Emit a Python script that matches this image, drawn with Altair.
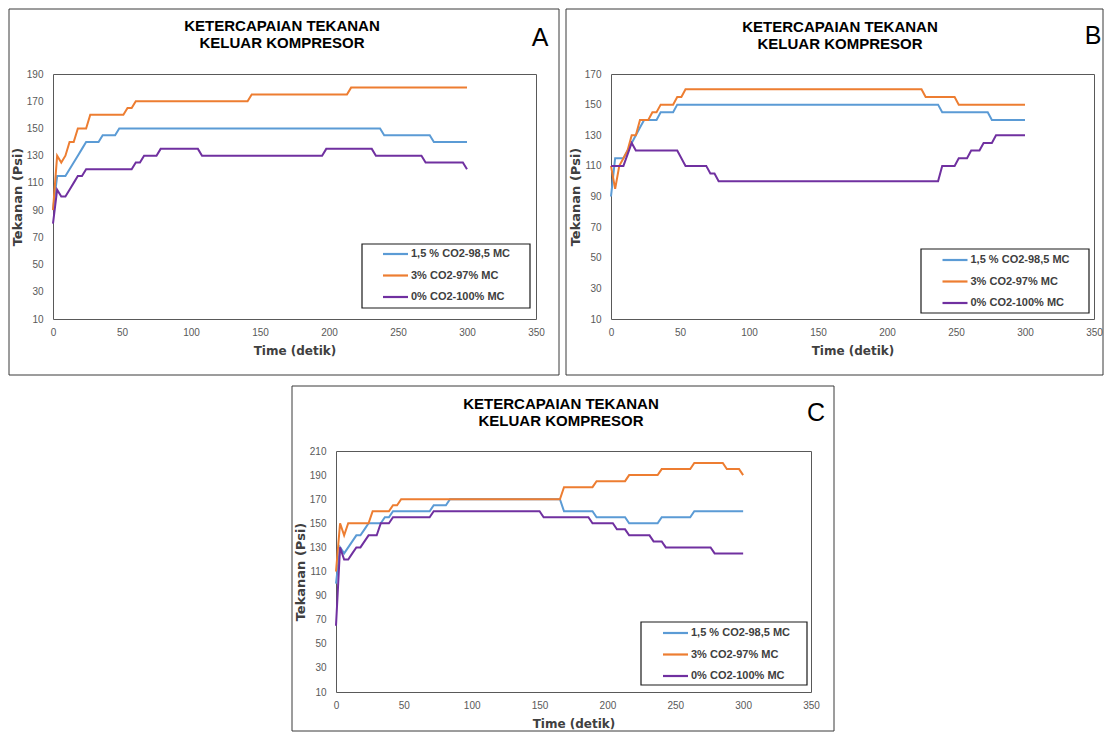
import altair as alt
import pandas as pd

# ---------------- text / categories ----------------
SERIES = ["1,5 % CO2-98,5 MC", "3% CO2-97% MC", "0% CO2-100% MC"]
COLORS = ["#5B9BD5", "#ED7D31", "#7030A0"]
TITLE_LINES = ["KETERCAPAIAN TEKANAN", "KELUAR KOMPRESOR"]
X_TITLE = "Time (detik)"
Y_TITLE = "Tekanan (Psi)"
X_TICKS = [0, 50, 100, 150, 200, 250, 300, 350]

# ---------------- panel A ----------------
A_Y_TICKS = [10, 30, 50, 70, 90, 110, 130, 150, 170, 190]
A_BLUE_T = [0, 3, 9, 12, 15, 18, 21, 24, 33, 36, 45, 48, 237, 240, 273, 276, 300]
A_BLUE_V = [90, 115, 115, 120, 125, 130, 135, 140, 140, 145, 145, 150, 150, 145, 145, 140, 140]
A_ORANGE_T = [0, 3, 6, 9, 12, 15, 18, 24, 27, 51, 54, 57, 60, 141, 144, 213, 216, 300]
A_ORANGE_V = [90, 130, 125, 130, 140, 140, 150, 150, 160, 160, 165, 165, 170, 170, 175, 175, 180, 180]
A_PURPLE_T = [0, 3, 6, 9, 12, 15, 18, 21, 24, 57, 60, 63, 66, 75, 78, 105, 108, 195, 198, 231, 234, 267, 270, 297, 300]
A_PURPLE_V = [80, 105, 100, 100, 105, 110, 115, 115, 120, 120, 125, 125, 130, 130, 135, 135, 130, 130, 135, 135, 130, 130, 125, 125, 120]

# ---------------- panel B ----------------
B_Y_TICKS = [10, 30, 50, 70, 90, 110, 130, 150, 170]
B_BLUE_T = [0, 3, 9, 12, 15, 18, 21, 24, 33, 36, 45, 48, 237, 240, 273, 276, 300]
B_BLUE_V = [90, 115, 115, 120, 125, 130, 135, 140, 140, 145, 145, 150, 150, 145, 145, 140, 140]
B_ORANGE_T = [0, 3, 6, 9, 12, 15, 18, 21, 27, 30, 33, 36, 45, 48, 51, 54, 225, 228, 249, 252, 300]
B_ORANGE_V = [110, 95, 110, 115, 120, 130, 130, 140, 140, 145, 145, 150, 150, 155, 155, 160, 160, 155, 155, 150, 150]
B_PURPLE_T = [0, 9, 15, 18, 48, 54, 69, 72, 75, 78, 237, 240, 249, 252, 258, 261, 267, 270, 276, 279, 300]
B_PURPLE_V = [110, 110, 125, 120, 120, 110, 110, 105, 105, 100, 100, 110, 110, 115, 115, 120, 120, 125, 125, 130, 130]

# ---------------- panel C ----------------
C_Y_TICKS = [10, 30, 50, 70, 90, 110, 130, 150, 170, 190, 210]
C_BLUE_T = [0, 3, 6, 9, 12, 15, 18, 21, 24, 33, 36, 39, 42, 69, 72, 81, 84, 165, 168, 189, 192, 213, 216, 237, 240, 261, 264, 300]
C_BLUE_V = [100, 130, 125, 130, 135, 140, 140, 145, 150, 150, 155, 155, 160, 160, 165, 165, 170, 170, 160, 160, 155, 155, 150, 150, 155, 155, 160, 160]
C_ORANGE_T = [0, 3, 6, 9, 24, 27, 39, 42, 45, 48, 165, 168, 189, 192, 213, 216, 237, 240, 261, 264, 285, 288, 297, 300]
C_ORANGE_V = [110, 150, 140, 150, 150, 160, 160, 165, 165, 170, 170, 180, 180, 185, 185, 190, 190, 195, 195, 200, 200, 195, 195, 190]
C_PURPLE_T = [0, 3, 6, 9, 12, 15, 18, 21, 24, 30, 33, 39, 42, 69, 72, 150, 153, 186, 189, 204, 207, 213, 216, 231, 234, 240, 243, 276, 279, 300]
C_PURPLE_V = [65, 130, 120, 120, 125, 130, 130, 135, 140, 140, 150, 150, 155, 155, 160, 160, 155, 155, 150, 150, 145, 145, 140, 140, 135, 135, 130, 130, 125, 125]


def long_table(pairs):
    rows = []
    for name, (ts, vs) in zip(SERIES, pairs):
        for t, v in zip(ts, vs):
            rows.append({"series": name, "t": t, "v": v})
    return pd.DataFrame(rows)


ONE = pd.DataFrame({"k": [0]})


def panel(letter, table, y_ticks, w, h, g):
    box = alt.Chart(ONE).mark_rect(fill="transparent", stroke="#3a3a3a", strokeWidth=1).encode(
        x=alt.value(g["box"][0]), x2=alt.value(g["box"][1]),
        y=alt.value(g["box"][2]), y2=alt.value(g["box"][3]))
    lbox = alt.Chart(ONE).mark_rect(fill="white", stroke="#1a1a1a", strokeWidth=1.2).encode(
        x=alt.value(g["lbox"][0]), x2=alt.value(g["lbox"][1]),
        y=alt.value(g["lbox"][2]), y2=alt.value(g["lbox"][3]))
    lines = alt.Chart(table).mark_line(strokeWidth=2).encode(
        x=alt.X("t:Q", title=X_TITLE,
                scale=alt.Scale(domain=[0, 350], nice=False, zero=False),
                axis=alt.Axis(values=X_TICKS)),
        y=alt.Y("v:Q", title=Y_TITLE,
                scale=alt.Scale(domain=[y_ticks[0], y_ticks[-1]], nice=False, zero=False),
                axis=alt.Axis(values=y_ticks, titleFontSize=13)),
        color=alt.Color("series:N",
                        scale=alt.Scale(domain=SERIES, range=COLORS),
                        legend=alt.Legend(title=None, orient="none",
                                          legendX=g["leg"][0], legendY=g["leg"][1],
                                          direction="vertical", symbolType="stroke",
                                          symbolSize=625, symbolStrokeWidth=2.2,
                                          labelFont="Liberation Sans", labelFontSize=11,
                                          labelFontWeight="bold", labelColor="#404040",
                                          labelOffset=1.5, rowPadding=2.5, padding=0)),
    )
    title = alt.Chart(ONE).mark_text(font="Liberation Sans", fontSize=15, fontWeight="bold",
                                     align="center", baseline="alphabetic", lineHeight=17,
                                     color="#000000").encode(
        x=alt.value(g["title"][0]), y=alt.value(g["title"][1]), text=alt.value(TITLE_LINES))
    tag = alt.Chart(ONE).mark_text(font="Liberation Sans", fontSize=25, align="center",
                                   baseline="middle", color="#000000").encode(
        x=alt.value(g["tag"][0]), y=alt.value(g["tag"][1]), text=alt.value(letter))
    return alt.layer(box, lbox, lines, title, tag).properties(width=w, height=h)


A = panel("A", long_table([(A_BLUE_T, A_BLUE_V), (A_ORANGE_T, A_ORANGE_V), (A_PURPLE_T, A_PURPLE_V)]),
          A_Y_TICKS, 483, 245,
          {"box": (-44, 506, -65, 301), "lbox": (309, 477, 170, 234), "leg": (328.5, 166),
           "title": (229, -42.6), "tag": (487, -36)})
B = panel("B", long_table([(B_BLUE_T, B_BLUE_V), (B_ORANGE_T, B_ORANGE_V), (B_PURPLE_T, B_PURPLE_V)]),
          B_Y_TICKS, 483, 245,
          {"box": (-45, 492, -65, 301), "lbox": (310, 478, 175, 239), "leg": (330, 172),
           "title": (229, -41.6), "tag": (482, -38)})
C = panel("C", long_table([(C_BLUE_T, C_BLUE_V), (C_ORANGE_T, C_ORANGE_V), (C_PURPLE_T, C_PURPLE_V)]),
          C_Y_TICKS, 475, 241,
          {"box": (-44, 498, -65, 280), "lbox": (305, 471, 171, 234), "leg": (325.5, 168),
           "title": (225, -41.6), "tag": (480, -38)})

spacer = alt.Chart(ONE).mark_point(opacity=0).encode(
    x=alt.value(0), y=alt.value(0)).properties(width=237, height=1,
                                               view=alt.ViewBackground(stroke="transparent"))

row1 = alt.hconcat(A, B, spacing=5).resolve_scale(color="independent")
row2 = alt.hconcat(spacer, C, spacing=0).resolve_scale(color="independent")

chart = alt.vconcat(row1, row2, spacing=9).resolve_scale(color="independent").properties(
    padding=0
).configure(
    font="Liberation Sans"
).configure_view(
    stroke="#595959", strokeWidth=1
).configure_axis(
    domain=False, ticks=False, tickSize=0, grid=False,
    labelFont="Liberation Sans", labelFontSize=10, labelColor="#595959",
    titleFont="DejaVu Sans", titleFontSize=12, titleFontWeight="bold", titleColor="#404040"
).configure_axisX(
    labelPadding=8, titlePadding=8, labelFlush=False
).configure_axisY(
    labelPadding=10, titlePadding=2
)

chart.save("out.html", embed_options={"renderer": "svg", "actions": False})
